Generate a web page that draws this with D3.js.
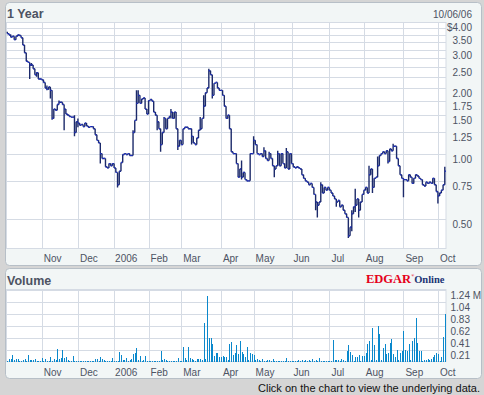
<!DOCTYPE html>
<html>
<head>
<meta charset="utf-8">
<script src="https://cdn.jsdelivr.net/npm/d3@7"></script>
<style>
  body { margin: 0; background: #d5d5d5; }
  svg { display: block; font-family: "Liberation Sans", Arial, sans-serif; }
</style>
</head>
<body>
<svg id="chart" width="484" height="395"></svg>
<script>

// month labels and trading days per month (Oct 2005 .. Oct 2006)
const monthNames = ['Nov', 'Dec', '2006', 'Feb', 'Mar', 'Apr', 'May', 'Jun', 'Jul', 'Aug', 'Sep', 'Oct'];
const monthDays = [20, 21, 21, 20, 19, 23, 19, 22, 22, 20, 23, 20, 5];

// daily closes, $
const closes = [
  3.55, 3.50, 3.42, 3.45, 3.33, 3.45, 3.50, 3.48, 3.40, 3.15,
  2.90, 2.65, 2.62, 2.55, 2.55, 2.45, 2.30, 2.35, 2.20, 2.20,
  2.18, 2.12, 2.00, 1.97, 2.02, 1.95, 1.45, 1.60, 1.58, 1.68,
  1.72, 1.72, 1.68, 1.60, 1.52, 1.50, 1.48, 1.47, 1.47, 1.25,
  1.40, 1.38, 1.35, 1.36, 1.33, 1.38, 1.34, 1.32, 1.33, 1.33,
  1.30, 1.22, 1.15, 1.12, 1.00, 0.95, 0.95, 0.87, 0.86, 0.90,
  0.88, 0.90, 0.86, 0.82, 0.72, 0.83, 0.91, 0.99, 1.00, 0.99,
  1.00, 0.98, 0.98, 1.25, 1.42, 1.70, 1.85, 1.70, 1.78, 1.80,
  1.60, 1.52, 1.75, 1.77, 1.74, 1.55, 1.50, 1.40, 1.30, 1.10,
  1.25, 1.45, 1.30, 1.45, 1.48, 1.55, 1.45, 1.55, 1.30, 1.08,
  1.15, 1.10, 1.30, 1.32, 1.32, 1.30, 1.30, 1.20, 1.12, 1.10,
  1.18, 1.28, 1.30, 1.45, 1.65, 1.90, 2.00, 2.40, 2.30, 1.85,
  2.10, 2.12, 2.00, 1.95, 1.95, 1.85, 1.65, 1.45, 1.50, 1.30,
  1.02, 1.00, 1.00, 0.90, 0.78, 0.85, 0.78, 0.82, 0.76, 0.75,
  0.75, 1.00, 1.00, 1.15, 1.10, 1.00, 0.99, 1.00, 0.97, 1.03,
  0.95, 0.93, 1.00, 0.95, 0.88, 0.85, 0.88, 1.00, 0.88, 1.00,
  0.90, 0.86, 1.02, 0.85, 1.00, 0.90, 0.87, 0.86, 0.87, 0.86,
  0.85, 0.80, 0.77, 0.75, 0.74, 0.72, 0.73, 0.70, 0.65, 0.60,
  0.58, 0.60, 0.72, 0.66, 0.70, 0.68, 0.70, 0.68, 0.66, 0.64,
  0.62, 0.60, 0.61, 0.57, 0.58, 0.55, 0.53, 0.51, 0.42, 0.46,
  0.53, 0.57, 0.58, 0.62, 0.55, 0.60, 0.65, 0.68, 0.70, 0.66,
  0.80, 0.85, 0.70, 0.77, 0.78, 0.88, 0.98, 1.00, 1.02, 1.00,
  1.03, 0.92, 1.05, 1.03, 1.08, 1.08, 0.95, 0.88, 0.80, 0.77,
  0.76, 0.76, 0.75, 0.80, 0.78, 0.73, 0.77, 0.80, 0.79, 0.77,
  0.76, 0.72, 0.71, 0.74, 0.73, 0.74, 0.73, 0.77, 0.72, 0.67,
  0.64, 0.66, 0.68, 0.72, 0.83
];

// intraday extremes that stick out of the close line: [day, low, high]
const ranges = [
  [0, 3.55, 3.62], [2, 3.42, 3.52], [7, 3.46, 3.52], [13, 2.20, 2.60], [14, 2.52, 2.60],
  [17, 2.25, 2.36], [23, 1.95, 2.05], [25, 1.79, 1.97], [26, 1.43, 1.80], [30, 1.70, 1.75],
  [33, 1.28, 1.62], [39, 1.20, 1.50], [41, 1.32, 1.45], [54, 0.90, 1.09], [64, 0.70, 0.80],
  [73, 1.00, 1.28], [75, 1.50, 1.95], [76, 1.70, 1.95], [87, 1.28, 1.45], [89, 1.02, 1.28],
  [91, 1.28, 1.47], [95, 1.45, 1.60], [99, 1.04, 1.28], [107, 1.10, 1.28], [112, 1.28, 1.47],
  [114, 1.60, 1.85], [117, 2.00, 2.45], [119, 1.79, 2.20], [136, 0.76, 0.93], [143, 1.00, 1.20],
  [149, 0.97, 1.07], [152, 0.93, 1.02], [155, 0.78, 0.88], [157, 0.88, 1.03], [162, 0.86, 1.06],
  [179, 0.55, 0.65], [180, 0.51, 0.60], [182, 0.60, 0.74], [191, 0.57, 0.62], [198, 0.41, 0.51],
  [200, 0.44, 0.55], [202, 0.54, 0.69], [204, 0.51, 0.62], [210, 0.66, 0.88], [212, 0.66, 0.85],
  [215, 0.78, 0.97], [221, 0.90, 1.03], [224, 1.03, 1.11], [230, 0.63, 0.77], [250, 0.59, 0.67],
  [254, 0.72, 0.87]
];

// daily volume, millions
const volumes = [
  0.020, 0.046, 0.046, 0.115, 0.030, 0.046, 0.046, 0.020, 0.020, 0.030,
  0.046, 0.020, 0.115, 0.030, 0.030, 0.030, 0.040, 0.020, 0.020, 0.020,
  0.063, 0.020, 0.046, 0.020, 0.020, 0.080, 0.020, 0.046, 0.030, 0.218,
  0.046, 0.060, 0.200, 0.069, 0.080, 0.030, 0.020, 0.020, 0.097, 0.020,
  0.020, 0.020, 0.020, 0.020, 0.020, 0.020, 0.020, 0.020, 0.020, 0.020,
  0.020, 0.046, 0.046, 0.020, 0.080, 0.046, 0.030, 0.020, 0.020, 0.020,
  0.020, 0.063, 0.020, 0.020, 0.020, 0.167, 0.115, 0.030, 0.030, 0.063,
  0.020, 0.030, 0.046, 0.132, 0.149, 0.235, 0.030, 0.097, 0.020, 0.030,
  0.097, 0.020, 0.020, 0.020, 0.020, 0.020, 0.020, 0.020, 0.020, 0.184,
  0.030, 0.046, 0.030, 0.020, 0.020, 0.020, 0.020, 0.020, 0.020, 0.057,
  0.020, 0.020, 0.253, 0.063, 0.030, 0.253, 0.063, 0.046, 0.030, 0.020,
  0.046, 0.046, 0.052, 0.030, 0.666, 0.050, 1.131, 0.408, 0.408, 0.310,
  0.097, 0.149, 0.149, 0.080, 0.080, 0.097, 0.080, 0.080, 0.030, 0.304,
  0.344, 0.115, 0.149, 0.287, 0.132, 0.356, 0.167, 0.132, 0.080, 0.253,
  0.030, 0.149, 0.132, 0.115, 0.030, 0.046, 0.030, 0.020, 0.046, 0.020,
  0.020, 0.030, 0.030, 0.020, 0.046, 0.020, 0.020, 0.020, 0.020, 0.020,
  0.020, 0.020, 0.063, 0.020, 0.020, 0.020, 0.020, 0.020, 0.020, 0.030,
  0.020, 0.030, 0.020, 0.030, 0.020, 0.030, 0.020, 0.046, 0.020, 0.030,
  0.020, 0.057, 0.020, 0.020, 0.020, 0.020, 0.020, 0.020, 0.020, 0.373,
  0.030, 0.030, 0.030, 0.020, 0.046, 0.030, 0.020, 0.184, 0.287, 0.167,
  0.115, 0.020, 0.080, 0.080, 0.115, 0.020, 0.097, 0.097, 0.149, 0.304,
  0.356, 0.030, 0.580, 0.287, 0.030, 0.615, 0.470, 0.030, 0.235, 0.310,
  0.126, 0.155, 0.322, 0.390, 0.132, 0.080, 0.200, 0.030, 0.149, 0.184,
  0.528, 0.200, 0.190, 0.304, 0.030, 0.350, 0.408, 0.758, 0.322, 0.184,
  0.184, 0.020, 0.030, 0.030, 0.046, 0.030, 0.046, 0.080, 0.115, 0.149,
  0.132, 0.020, 0.080, 0.425, 0.827
];

// axes
const priceGrid = [4, 3.75, 3.5, 3.25, 3, 2.75, 2.5, 2.25, 2, 1.75, 1.5, 1.25, 1, 0.75, 0.5];
const priceLabelValues = [4, 3.5, 3, 2.5, 2, 1.75, 1.5, 1.25, 1, 0.75, 0.5];
const priceLabelText = ['$4.00', '3.50', '3.00', '2.50', '2.00', '1.75', '1.50', '1.25', '1.00', '0.75', '0.50'];
const volLabelText = ['0.21', '0.41', '0.62', '0.83', '1.04', '1.24 M'];
const volMax = 1.2435;

const svg = d3.select('#chart');
const gridColor = '#d5dbe4';
const textColor = '#4d5363';

// month start index = cumulative trading days
const monthStarts = d3.cumsum(monthDays).slice(0, monthNames.length);

//Scales
const x = d3.scaleLinear().domain([0, closes.length - 1]).range([7.3, 444.8]);
const yPrice = d3.scaleLog().domain([0.368, 4]).range([248.3, 22.3]);
const yVol = d3.scaleLinear().domain([0, volMax]).range([361.7, 289.5]);
const volTicks = d3.range(1, 7).map(k => k * volMax / 6);

const plotLeft = 6.5, plotRight = 446;

//Panels
const panel = (y, h) => svg.append('rect')
  .attr('x', 5.5).attr('y', y).attr('width', 476).attr('height', h)
  .attr('rx', 4).attr('fill', '#f2f6f6').attr('stroke', '#b7bfc7');
panel(2.5, 263);
panel(268.5, 110);

const plotBox = (top, bottom) => svg.append('rect')
  .attr('x', plotLeft).attr('y', top).attr('width', plotRight - plotLeft).attr('height', bottom - top)
  .attr('fill', '#fff').attr('stroke', gridColor);
plotBox(22.5, 248.5);
plotBox(289.5, 361.5);

const snap = v => Math.round(v) + 0.5;

//Grid
const grid = svg.append('g').attr('stroke', gridColor).attr('shape-rendering', 'crispEdges');
grid.selectAll('.hp').data(priceGrid).join('line')
  .attr('x1', plotLeft).attr('x2', plotRight)
  .attr('y1', d => snap(yPrice(d))).attr('y2', d => snap(yPrice(d)));
grid.selectAll('.hv').data(volTicks).join('line')
  .attr('x1', plotLeft).attr('x2', plotRight)
  .attr('y1', d => snap(yVol(d))).attr('y2', d => snap(yVol(d)));
[[22.5, 248.5], [289.5, 361.5]].forEach(([t, b]) => {
  grid.append('g').selectAll('line').data(monthStarts).join('line')
    .attr('x1', d => snap(x(d))).attr('x2', d => snap(x(d)))
    .attr('y1', t).attr('y2', b);
});

//Volume bars
svg.append('g').selectAll('rect').data(volumes).join('rect')
  .attr('x', (d, i) => Math.round(x(i)))
  .attr('width', 1)
  .attr('y', d => yVol(d))
  .attr('height', d => yVol(0) - yVol(d))
  .attr('fill', '#0a88cc')
  .attr('shape-rendering', 'crispEdges');

//Price: step line with daily ranges
const dayRange = new Map(ranges.map(r => [r[0], r]));
let path = '';
closes.forEach((c, i) => {
  const prev = i > 0 ? closes[i - 1] : c;
  const r = dayRange.get(i);
  const lo = Math.min(prev, c, r ? r[1] : c);
  const hi = Math.max(prev, c, r ? r[2] : c);
  const xi = x(i);
  path += `M${xi},${yPrice(lo)}V${yPrice(hi)}`;
  path += `M${xi},${yPrice(c)}H${x(Math.min(i + 1, closes.length - 1)) + (i === closes.length - 1 ? 1 : 0)}`;
});
svg.append('path').attr('d', path).attr('fill', 'none')
  .attr('stroke', '#1c2a6a').attr('stroke-width', 1.4);

svg.append('g').selectAll('line').data(closes).join('line')
  .attr('x1', (d, i) => x(i)).attr('x2', (d, i) => x(i) + 1.2)
  .attr('y1', d => yPrice(d)).attr('y2', d => yPrice(d))
  .attr('stroke', '#2233d6').attr('stroke-width', 1.2);

//Axis labels
const labels = svg.append('g').attr('fill', textColor).attr('font-size', 10);
labels.selectAll('.pl').data(priceLabelValues).join('text')
  .attr('x', 472).attr('y', d => Math.max(yPrice(d) + 9, 29))
  .attr('text-anchor', 'end')
  .text((d, i) => priceLabelText[i]);
labels.selectAll('.vl').data(volTicks).join('text')
  .attr('x', 450.5).attr('y', d => yVol(d) + 9.5)
  .text((d, i) => volLabelText[i]);
[261.5, 375.5].forEach(yy => {
  labels.append('g').selectAll('text').data(monthStarts).join('text')
    .attr('x', (d, i) => x(d) + (monthNames[i] === '2006' ? 1 : 2))
    .attr('y', yy)
    .text((d, i) => monthNames[i]);
});

//Titles
svg.append('text').attr('x', 7).attr('y', 17.5).attr('font-size', 12.5).attr('font-weight', 'bold')
  .attr('fill', textColor).text('1 Year');
svg.append('text').attr('x', 7).attr('y', 284.5).attr('font-size', 12.5).attr('font-weight', 'bold')
  .attr('fill', textColor).text('Volume');
svg.append('text').attr('x', 472).attr('y', 17.5).attr('font-size', 10).attr('text-anchor', 'end')
  .attr('fill', textColor).text('10/06/06');

// EDGAR Online logo
const logo = svg.append('text').attr('x', 366).attr('y', 283).attr('font-family', '"Liberation Serif", "Times New Roman", serif')
  .attr('font-weight', 'bold');
logo.append('tspan').attr('font-size', 12.5).attr('fill', '#e5001a').text('EDGAR');
logo.append('tspan').attr('font-size', 4).attr('dy', -6).attr('fill', '#e5001a').text('®');
logo.append('tspan').attr('font-size', 10.5).attr('dy', 6).attr('fill', '#1b3474').text('Online');

svg.append('text').attr('x', 480).attr('y', 392).attr('font-size', 11).attr('text-anchor', 'end')
  .attr('fill', '#111').text('Click on the chart to view the underlying data.');

</script>
</body>
</html>
